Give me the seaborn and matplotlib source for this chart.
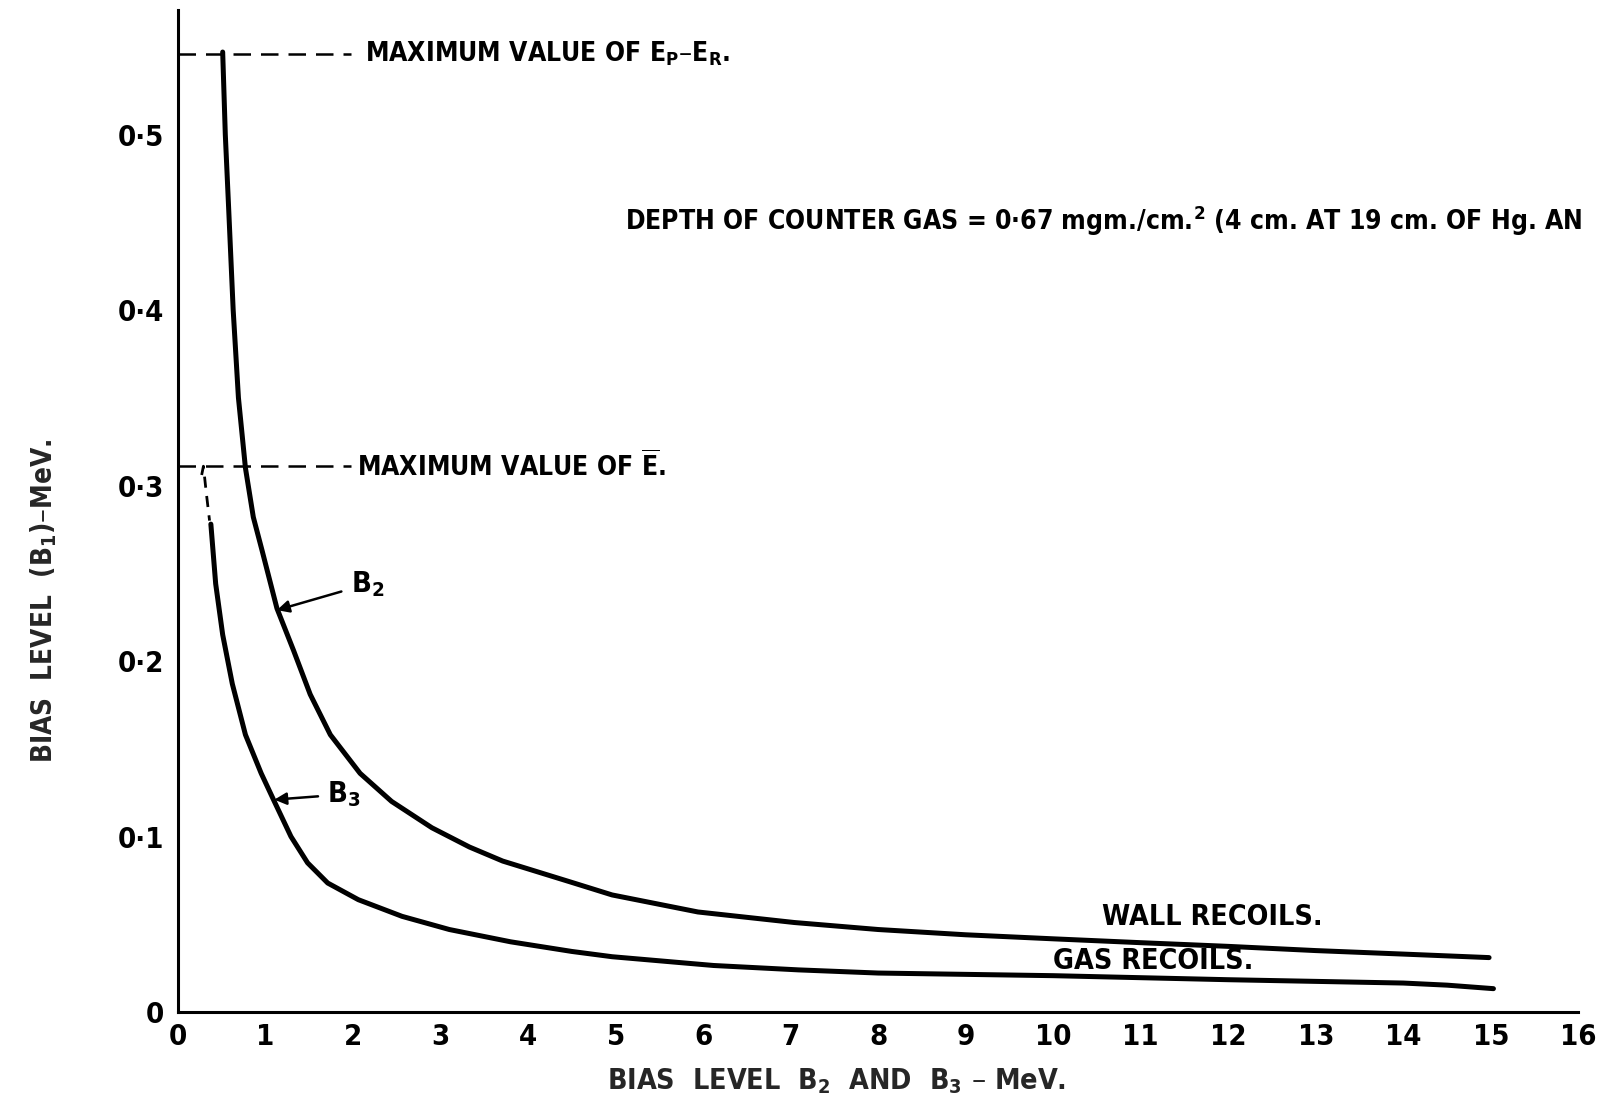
import matplotlib
matplotlib.use("Agg")
import matplotlib.pyplot as plt
import pandas as pd
import seaborn as sns

# --- values ---
b2_x = [0.51, 0.54, 0.58, 0.63, 0.69, 0.77, 0.86, 0.96, 1.13, 1.32, 1.51, 1.74, 2.08, 2.44,
        2.90, 3.33, 3.71, 4.47, 4.96, 5.94, 7.04, 8.0, 9.0, 10.0, 11.0, 12.0, 13.0, 14.0, 14.98]
b2_y = [0.547, 0.500, 0.456, 0.400, 0.350, 0.310, 0.282, 0.263, 0.230, 0.206, 0.181, 0.158, 0.136, 0.120,
        0.105, 0.094, 0.086, 0.0743, 0.0667, 0.057, 0.051, 0.047, 0.044, 0.0417, 0.0395, 0.0374, 0.035,
        0.033, 0.031]

b3_x = [0.375, 0.43, 0.51, 0.62, 0.77, 0.95, 1.10, 1.29, 1.48, 1.71, 2.06, 2.56, 3.10,
        3.80, 4.50, 4.96, 6.12, 7.09, 8.0, 10.0, 12.0, 14.0, 14.5, 15.03]
b3_y = [0.278, 0.244, 0.215, 0.187, 0.158, 0.136, 0.120, 0.100, 0.085, 0.0735, 0.064, 0.0545, 0.0470,
        0.0400, 0.0345, 0.0315, 0.0265, 0.024, 0.0222, 0.0207, 0.0184, 0.0165, 0.0153, 0.0133]

# dashed upper end of the B3 curve
b3_dash_x = [0.27, 0.29, 0.32, 0.36]
b3_dash_y = [0.306, 0.311, 0.297, 0.280]

max_ep_er = 0.546   # maximum value of Ep - ER
max_ebar = 0.311    # maximum value of E-bar

x_ticks = list(range(0, 17))
y_ticks = [0, 0.1, 0.2, 0.3, 0.4, 0.5]
y_tick_labels = ["0", "0·1", "0·2", "0·3", "0·4", "0·5"]

curves = pd.concat([
    pd.DataFrame({"x": b2_x, "y": b2_y, "curve": "B2"}),
    pd.DataFrame({"x": b3_x, "y": b3_y, "curve": "B3"}),
])

sns.set_style("white")
plt.rcParams["font.family"] = ["DejaVu Sans"]
plt.rcParams["font.stretch"] = "condensed"
plt.rcParams["font.weight"] = "bold"
plt.rcParams["mathtext.default"] = "bf"
plt.rcParams["text.color"] = "black"

fig = plt.figure(figsize=(16.04, 11.03), dpi=100)
ax = fig.add_axes([0.1110, 0.0825, 0.8730, 0.9085])

sns.lineplot(data=curves, x="x", y="y", units="curve", estimator=None, sort=False,
             color="black", linewidth=3.6, ax=ax)
sns.lineplot(x=b3_dash_x, y=b3_dash_y, sort=False, color="black", linewidth=2.0,
             linestyle=(0, (4, 3)), ax=ax)

# reference levels
ax.hlines([max_ep_er, max_ebar], 0, 1.98, colors="black", linewidth=1.8,
          linestyles=[(0, (7, 4))])

ax.set_xlim(0, 16)
ax.set_ylim(0, 0.571)
ax.set_xticks(x_ticks)
ax.set_xticklabels([str(t) for t in x_ticks])
ax.set_yticks(y_ticks)
ax.set_yticklabels(y_tick_labels)
ax.tick_params(axis="x", direction="in", length=14, width=2, pad=8, labelsize=21,
               colors="black")
ax.tick_params(axis="y", direction="in", length=12, width=2, pad=10, labelsize=21,
               colors="black")
ax.yaxis.get_major_ticks()[0].tick1line.set_visible(False)

for side in ["top", "right"]:
    ax.spines[side].set_visible(False)
for side in ["left", "bottom"]:
    ax.spines[side].set_linewidth(2.2)
    ax.spines[side].set_color("black")

ax.set_xlabel("BIAS  LEVEL  B$_2$  AND  B$_3$ – MeV.", fontsize=20.5, fontweight="bold")
ax.set_ylabel("BIAS  LEVEL  (B$_1$)–MeV.", fontsize=20, fontweight="bold")
ax.xaxis.set_label_coords(0.47, -0.054)
ax.yaxis.set_label_coords(-0.085, 0.41)

txt = dict(fontsize=19, fontweight="bold", color="black")
ax.text(2.14, max_ep_er, "MAXIMUM VALUE OF E$_P$–E$_R$.", va="center", **txt)
ax.text(2.05, max_ebar, "MAXIMUM VALUE OF $\\overline{E}$.", va="center", **txt)
ax.text(5.11, 0.451, "DEPTH OF COUNTER GAS = 0·67 mgm./cm.$^2$ (4 cm. AT 19 cm. OF Hg. AN",
        va="center", fontsize=19, fontweight="bold", color="black")
ax.text(10.56, 0.054, "WALL RECOILS.", va="center", fontsize=20.5, fontweight="bold")
ax.text(10.0, 0.029, "GAS RECOILS.", va="center", fontsize=20.5, fontweight="bold")

lab = dict(fontsize=21, fontweight="bold", color="black")
ax.annotate("B$_2$", xy=(1.13, 0.229), xytext=(1.98, 0.244), va="center", **lab,
            arrowprops=dict(arrowstyle="-|>", color="black", lw=1.8, shrinkA=5, shrinkB=0,
                            mutation_scale=18))
ax.annotate("B$_3$", xy=(1.10, 0.121), xytext=(1.70, 0.124), va="center", **lab,
            arrowprops=dict(arrowstyle="-|>", color="black", lw=1.8, shrinkA=4, shrinkB=0,
                            mutation_scale=18))

fig.savefig("out.png", dpi=100)
